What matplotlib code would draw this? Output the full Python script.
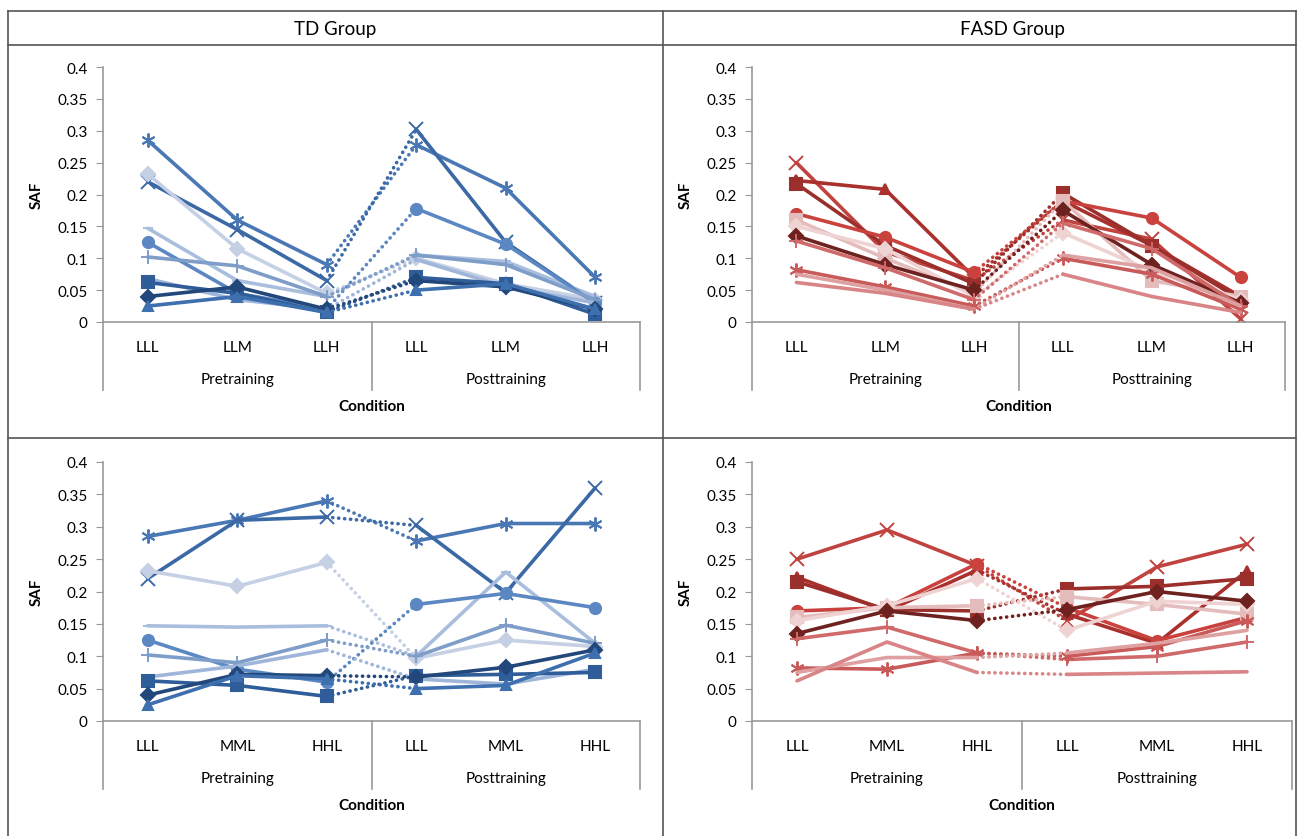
import matplotlib.pyplot as plt
from matplotlib.transforms import blended_transform_factory

plt.rcParams['font.family'] = ['Lato', 'DejaVu Sans']

W, H = 1298, 837

top_cats = ['LLL', 'LLM', 'LLH', 'LLL', 'LLM', 'LLH']
bot_cats = ['LLL', 'MML', 'HHL', 'LLL', 'MML', 'HHL']
phases = ['Pretraining', 'Posttraining']
yticks = [0, 0.05, 0.1, 0.15, 0.2, 0.25, 0.3, 0.35, 0.4]
ytick_labels = ['0', '0.05', '0.1', '0.15', '0.2', '0.25', '0.3', '0.35', '0.4']

# TD group: marker, colour
td_markers = [(6, 2, 0), 'x', 'D', '_', 'o', '+', None, 's', 'D', '^']
td_colors = ['#4a78b5', '#3b69a6', '#c5d0e4', '#a9bedd', '#5b87c2',
             '#7f9dc9', '#9fb5da', '#2f5d99', '#22477a', '#3e6fae']
td_top = [
    [0.285, 0.160, 0.090, 0.278, 0.210, 0.070],
    [0.220, 0.145, 0.065, 0.302, 0.125, 0.030],
    [0.232, 0.115, 0.045, 0.100, 0.060, 0.035],
    [0.147, 0.065, 0.040, 0.105, 0.095, 0.040],
    [0.125, 0.045, 0.020, 0.178, 0.122, 0.030],
    [0.102, 0.088, 0.040, 0.105, 0.090, 0.035],
    [0.068, 0.035, 0.020, 0.098, 0.055, 0.030],
    [0.062, 0.045, 0.015, 0.070, 0.060, 0.012],
    [0.040, 0.055, 0.020, 0.065, 0.055, 0.020],
    [0.025, 0.040, 0.015, 0.050, 0.060, 0.020],
]
td_bot = [
    [0.285, 0.310, 0.340, 0.278, 0.305, 0.305],
    [0.220, 0.310, 0.315, 0.302, 0.198, 0.360],
    [0.232, 0.208, 0.245, 0.097, 0.125, 0.115],
    [0.147, 0.145, 0.147, 0.100, 0.230, 0.120],
    [0.125, 0.080, 0.060, 0.180, 0.197, 0.175],
    [0.102, 0.090, 0.125, 0.100, 0.148, 0.120],
    [0.068, 0.085, 0.110, 0.065, 0.057, 0.080],
    [0.062, 0.055, 0.038, 0.070, 0.072, 0.075],
    [0.040, 0.072, 0.070, 0.068, 0.083, 0.110],
    [0.025, 0.070, 0.065, 0.050, 0.055, 0.105],
]

# FASD group
fasd_markers = ['x', '^', 's', 'o', 's', 'D', 'D', '+', (6, 2, 0), None, None]
fasd_colors = ['#c0433f', '#a9302c', '#9b2f2c', '#c9423e', '#e4bcbc',
               '#efd3d2', '#6e2220', '#d06a6a', '#c95a5a', '#dea0a0', '#d98486']
fasd_top = [
    [0.250, 0.110, 0.065, 0.160, 0.130, 0.005],
    [0.222, 0.208, 0.070, 0.190, 0.120, 0.040],
    [0.217, 0.120, 0.060, 0.202, 0.120, 0.035],
    [0.170, 0.133, 0.078, 0.190, 0.163, 0.070],
    [0.160, 0.100, 0.045, 0.190, 0.065, 0.040],
    [0.150, 0.115, 0.040, 0.140, 0.080, 0.035],
    [0.135, 0.090, 0.050, 0.175, 0.090, 0.030],
    [0.127, 0.085, 0.035, 0.155, 0.115, 0.025],
    [0.082, 0.055, 0.025, 0.100, 0.075, 0.020],
    [0.075, 0.050, 0.020, 0.105, 0.085, 0.025],
    [0.062, 0.045, 0.020, 0.075, 0.040, 0.015],
]
fasd_bot = [
    [0.250, 0.295, 0.240, 0.155, 0.238, 0.273],
    [0.222, 0.170, 0.233, 0.165, 0.120, 0.232],
    [0.215, 0.172, 0.170, 0.204, 0.208, 0.220],
    [0.170, 0.175, 0.243, 0.175, 0.124, 0.160],
    [0.160, 0.175, 0.178, 0.192, 0.180, 0.165],
    [0.155, 0.178, 0.220, 0.140, 0.185, 0.180],
    [0.135, 0.170, 0.155, 0.172, 0.200, 0.185],
    [0.127, 0.145, 0.105, 0.095, 0.100, 0.122],
    [0.082, 0.080, 0.105, 0.100, 0.115, 0.155],
    [0.075, 0.098, 0.098, 0.105, 0.120, 0.140],
    [0.062, 0.122, 0.075, 0.072, 0.074, 0.076],
]

fig = plt.figure(figsize=(W / 100, H / 100), dpi=100)

# table frame
bg = fig.add_axes([0, 0, 1, 1])
bg.set_xlim(0, W)
bg.set_ylim(H, 0)
bg.axis('off')
frame = dict(color='#555555', lw=1.2)
bg.plot([8, 1296], [12, 12], **frame)
bg.plot([8, 1296], [46, 46], **frame)
bg.plot([8, 1296], [439, 439], **frame)
bg.plot([8, 8], [12, 837], **frame)
bg.plot([1296, 1296], [12, 837], **frame)
bg.plot([663, 663], [12, 837], **frame)
bg.text(335, 29, 'TD Group', ha='center', va='center', fontsize=13.5)
bg.text(1012, 29, 'FASD Group', ha='center', va='center', fontsize=13.5)


def panel(rect, cats, data, markers, colors):
    x0, y0, x1, y1 = rect
    ax = fig.add_axes([x0 / W, 1 - y1 / H, (x1 - x0) / W, (y1 - y0) / H])
    for vals, m, c in zip(data, markers, colors):
        if m in ('o', 's'):
            ms, mew = 8, 1.5
        elif m in ('x', '+') or isinstance(m, tuple):
            ms, mew = 10, 1.4
        else:
            ms, mew = 7.5, 1.5
        kw = dict(color=c, lw=2.6, marker=m, ms=ms, mew=mew, mfc=c, mec=c,
                  solid_capstyle='round')
        ax.plot([0, 1, 2], vals[0:3], **kw)
        ax.plot([3, 4, 5], vals[3:6], **kw)
        ax.plot([2, 3], vals[2:4], color=c, lw=2.6, ls=(0, (0.05, 1.6)),
                dash_capstyle='round')
    ax.set_xlim(-0.5, 5.5)
    ax.set_ylim(0, 0.4)
    ax.set_yticks(yticks)
    ax.set_yticklabels(ytick_labels)
    ax.set_xticks(range(6))
    ax.set_xticklabels(cats)
    for s in ['top', 'right']:
        ax.spines[s].set_visible(False)
    for s in ['left', 'bottom']:
        ax.spines[s].set_color('#999999')
        ax.spines[s].set_linewidth(1.2)
    ax.tick_params(axis='y', length=5, color='#999999', labelsize=11, pad=6)
    ax.tick_params(axis='x', length=0, labelsize=11, pad=13)
    h = y1 - y0
    tr = blended_transform_factory(ax.transData, ax.transAxes)
    for xs in (-0.5, 2.5, 5.5):
        ax.plot([xs, xs], [0, -68 / h], color='#999999', lw=1.2,
                transform=tr, clip_on=False)
    ax.text(1, -57 / h, phases[0], transform=tr, ha='center', va='center',
            fontsize=11)
    ax.text(4, -57 / h, phases[1], transform=tr, ha='center', va='center',
            fontsize=11)
    ax.text(0.5, -84 / h, 'Condition', transform=ax.transAxes, ha='center',
            va='center', fontsize=11, fontweight='bold')
    ax.set_ylabel('SAF', fontsize=11, fontweight='bold', labelpad=10)
    return ax


panel((103, 68, 640, 323), top_cats, td_top, td_markers, td_colors)
panel((752, 68, 1285, 323), top_cats, fasd_top, fasd_markers, fasd_colors)
panel((103, 463, 640, 722), bot_cats, td_bot, td_markers, td_colors)
panel((752, 463, 1292, 722), bot_cats, fasd_bot, fasd_markers, fasd_colors)

fig.savefig('out.png', dpi=100)
